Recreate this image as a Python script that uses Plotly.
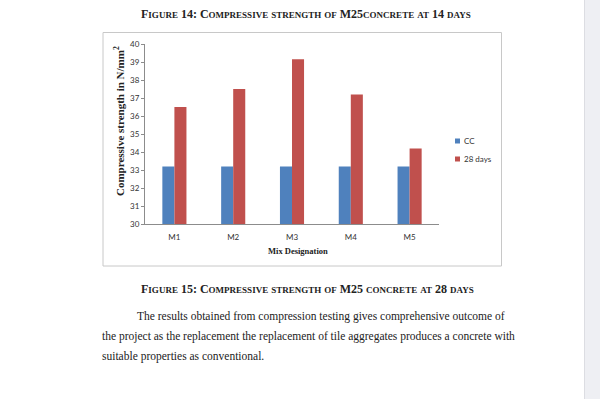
import plotly.graph_objects as go

# ---- data ----
mixes = ["M1", "M2", "M3", "M4", "M5"]
cc_values = [33.2, 33.2, 33.2, 33.2, 33.2]
days28_values = [36.5, 37.5, 39.15, 37.2, 34.2]
series_names = ["CC", "28 days"]
y_ticks = list(range(30, 41))

BLUE = "#4F81BD"
RED = "#C0504D"
W, H = 600, 399
L, R, T, B = 145, 439, 44, 224  # plot area in pixels


def px(x):
    return (x - L) / (R - L)


def py(y):
    return (B - y) / (B - T)


def smallcaps(s, big, small):
    out = []
    for word in s.split(" "):
        parts = []
        for ch in word:
            if ch.isupper() or ch.isdigit() or ch == ":":
                parts.append(f"<span style='font-size:{big}px'>{ch}</span>")
            else:
                parts.append(f"<span style='font-size:{small}px'>{ch.upper()}</span>")
        out.append("".join(parts))
    return " ".join(out)


fig = go.Figure()
fig.add_trace(go.Bar(x=mixes, y=cc_values, name=series_names[0], marker_color=BLUE,
                     marker_line_width=0))
fig.add_trace(go.Bar(x=mixes, y=days28_values, name=series_names[1], marker_color=RED,
                     marker_line_width=0))

serif = "Liberation Serif"
shapes = [
    # page side strip
    dict(type="rect", xref="paper", yref="paper", x0=px(584), x1=px(601), y0=py(400), y1=py(-1),
         fillcolor="#eeeff3", line_width=0, layer="below"),
    dict(type="line", xref="paper", yref="paper", x0=px(584.5), x1=px(584.5), y0=py(400), y1=py(-1),
         line=dict(color="#dcdde2", width=1)),
    # chart frame
    dict(type="rect", xref="paper", yref="paper", x0=px(103), x1=px(501.5), y0=py(266), y1=py(32.5),
         line=dict(color="#c8c8c8", width=1), fillcolor="rgba(0,0,0,0)"),
    # legend markers
    dict(type="rect", xref="paper", yref="paper", x0=px(455), x1=px(460), y0=py(143.5), y1=py(138.5),
         fillcolor=BLUE, line_width=0),
    dict(type="rect", xref="paper", yref="paper", x0=px(455), x1=px(460), y0=py(161.5), y1=py(156.5),
         fillcolor=RED, line_width=0),
]

annotations = [
    dict(text=series_names[0], x=px(462), y=py(141), xanchor="left", yanchor="middle",
         font=dict(family="Lato", size=8, color="#333")),
    dict(text=series_names[1], x=px(462), y=py(159), xanchor="left", yanchor="middle",
         font=dict(family="Lato", size=8, color="#333")),
    dict(text="<b>Compressive strength in N/mm<sup>2</sup></b>", x=px(119), y=py(121),
         textangle=-90, xanchor="center", yanchor="middle",
         font=dict(family=serif, size=11, color="#222")),
    dict(text="<b>Mix Designation</b>", x=px(298), y=py(250.5), xanchor="center", yanchor="middle",
         font=dict(family=serif, size=8.5, color="#222")),
    dict(text="<b>" + smallcaps("Figure 14: Compressive strength of M25concrete at 14 days", 12, 9) + "</b>",
         x=px(305.5), y=py(14), xanchor="center", yanchor="middle",
         font=dict(family=serif, size=12, color="#222")),
    dict(text="<b>" + smallcaps("Figure 15: Compressive strength of M25 concrete at 28 days", 12, 9) + "</b>",
         x=px(307.5), y=py(288.5), xanchor="center", yanchor="middle",
         font=dict(family=serif, size=12, color="#222")),
    dict(text="The results obtained from compression testing gives comprehensive outcome of",
         x=px(135), y=py(316.5), xanchor="left", yanchor="middle",
         font=dict(family=serif, size=11.5, color="#222")),
    dict(text="the project as the replacement the replacement of tile aggregates produces a concrete with",
         x=px(100), y=py(336), xanchor="left", yanchor="middle",
         font=dict(family=serif, size=11.5, color="#222")),
    dict(text="suitable properties as conventional.",
         x=px(100), y=py(356), xanchor="left", yanchor="middle",
         font=dict(family=serif, size=11.5, color="#222")),
]
for a in annotations:
    a.update(xref="paper", yref="paper", showarrow=False)

fig.update_layout(
    width=W, height=H,
    margin=dict(l=L, r=W - R, t=T, b=H - B, pad=0),
    paper_bgcolor="white", plot_bgcolor="white",
    barmode="group", bargap=0.59, bargroupgap=0,
    showlegend=False,
    shapes=shapes, annotations=annotations,
    xaxis=dict(range=[-0.5, 4.5], showgrid=False, showline=True, linecolor="#8c8c8c", linewidth=1,
               ticks="", tickfont=dict(family="Lato", size=8, color="#333"), ticklabelstandoff=5,
               fixedrange=True),
    yaxis=dict(range=[30, 40], tickvals=y_ticks, showgrid=False, showline=True, linecolor="#8c8c8c",
               linewidth=1, ticks="outside", ticklen=3, tickcolor="#8c8c8c",
               tickfont=dict(family="Lato", size=8, color="#333"), fixedrange=True),
)

fig.write_html("out.html", config={"displayModeBar": False},
               post_script="document.body.style.margin='0';document.body.style.overflow='hidden';")
